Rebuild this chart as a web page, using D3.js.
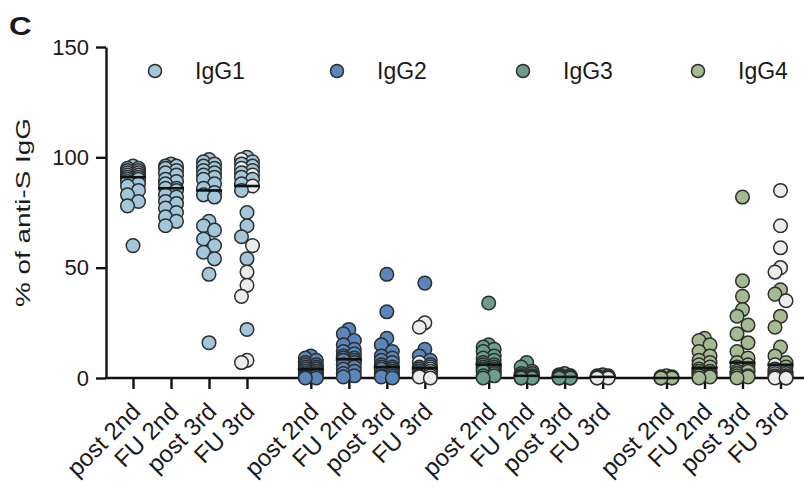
<!DOCTYPE html>
<html>
<head>
<meta charset="utf-8">
<script src="https://cdn.jsdelivr.net/npm/d3@7/dist/d3.min.js"></script>
<style>
  body { margin: 0; background: #fff; }
  text { font-family: "Liberation Sans", Arial, sans-serif; fill: #1a1a1a; }
</style>
</head>
<body>
<svg id="chart" width="804" height="491"></svg>
<script>
// subclasses and timepoints
const subclasses = ['IgG1', 'IgG2', 'IgG3', 'IgG4'];
const timepoints = ['post 2nd', 'FU 2nd', 'post 3rd', 'FU 3rd'];
const yTicks = [0, 50, 100, 150];

// % of anti-S IgG, one array per timepoint
const igg1 = [
  [96, 95, 95, 94, 94, 93, 93, 92, 92, 91, 91, 90, 90, 89, 88, 87, 85, 83, 80, 78, 60],
  [97, 96, 96, 95, 94, 93, 92, 90, 89, 88, 86, 86, 85, 83, 82, 80, 79, 77, 75, 73, 71, 69],
  [99, 98, 97, 96, 95, 94, 93, 92, 91, 90, 88, 86, 84, 83, 82, 71, 69, 67, 63, 60, 57, 54, 47, 16],
  [100, 98, 97, 96, 94, 93, 91, 90, 88, 85, 75, 69, 64, 54, 22],
];
const igg2 = [
  [10, 9, 8, 7, 6, 6, 5, 5, 4, 4, 3, 3, 2, 2, 1, 1, 0.5, 0, 0],
  [22, 20, 17, 15, 13, 12, 11, 10, 9, 9, 8, 8, 7, 6, 5, 4, 3, 2, 1, 0.5],
  [47, 30, 18, 15, 12, 10, 9, 8, 7, 6, 5, 5, 4, 4, 3, 2, 2, 1, 1, 0.5, 0],
  [43, 13, 10, 8, 6, 5, 4, 3, 2, 1],
];
const igg3 = [
  [34, 15, 14, 13, 12, 10, 9, 8, 7, 6, 6, 5, 5, 4, 4, 3, 3, 2, 1, 1, 0],
  [7, 5, 3, 2, 2, 1, 1, 1, 0.5, 0.5, 0, 0, 0, 0],
  [2, 1.5, 1, 1, 1, 0.5, 0.5, 0.5, 0, 0, 0, 0],
  [1.5, 1, 0.5, 0],
];
const igg4 = [
  [1, 0.5, 0.5, 0, 0, 0, 0, 0],
  [18, 17, 15, 12, 10, 8, 7, 6, 5, 4, 3, 3, 2, 2, 1, 1, 0.5, 0],
  [82, 44, 37, 31, 28, 24, 20, 16, 12, 9, 7, 6, 5, 4, 3, 3, 2, 1, 1, 0.5, 0],
  [40, 38, 28, 23, 14, 10, 7, 5, 4, 3, 2, 1, 0.5, 0],
];
// FU 3rd samples drawn as open (white) points
const fu3White = [
  [99, 95, 92, 87, 60, 48, 42, 37, 8, 7],
  [25, 23, 7, 5, 4, 3, 2, 1, 0.5, 0],
  [1, 0.5, 0, 0],
  [85, 69, 59, 50, 48, 35, 6, 3, 2, 1, 0.5, 0, 0],
];

const colors = ['#a3c6da', '#5a86bb', '#6b9f8b', '#a6ba91'];
const whiteFill = '#ececec';

const svg = d3.select('#chart');
const W = 804, H = 491;
const groupStep = 4.68;

const y = d3.scaleLinear().domain([0, 150]).range([378, 47]);
const x = d3.scaleLinear().domain([0, 3 * groupStep + 3]).range([133, 780.5]);

svg.append('rect').attr('width', W).attr('height', H).attr('fill', '#fff');

// panel letter
svg.append('text').attr('transform', 'translate(9,35) scale(1.25,1)')
  .attr('font-size', 25).attr('font-weight', 'bold').text('C');

// y axis
const yAxis = svg.append('g').attr('transform', 'translate(106,0)')
  .call(d3.axisLeft(y).tickValues(yTicks).tickSize(10).tickSizeOuter(0));
yAxis.select('.domain').attr('stroke', '#111').attr('stroke-width', 2.4);
yAxis.selectAll('.tick line').attr('stroke', '#111').attr('stroke-width', 2.4);
yAxis.selectAll('.tick text').attr('font-size', 22).attr('x', -17)
  .attr('font-family', '"Liberation Sans", Arial, sans-serif').attr('fill', '#1a1a1a');

svg.append('text')
  .attr('transform', 'translate(30,212.5) rotate(-90)')
  .attr('text-anchor', 'middle').attr('font-size', 21)
  .attr('textLength', 189).attr('lengthAdjust', 'spacingAndGlyphs')
  .text('% of anti-S IgG');

// x axis
const slots = [];
subclasses.forEach((s, g) => timepoints.forEach((t, i) => slots.push({ g, i, pos: g * groupStep + i, label: t })));

const xAxis = svg.append('g').attr('transform', 'translate(0,378)')
  .call(d3.axisBottom(x).tickValues(slots.map(d => d.pos)).tickSize(11).tickFormat(''));
xAxis.select('.domain').remove();
xAxis.selectAll('.tick line').attr('stroke', '#111').attr('stroke-width', 2.4);
svg.append('line').attr('x1', 105).attr('x2', W).attr('y1', 378).attr('y2', 378)
  .attr('stroke', '#111').attr('stroke-width', 2.4);

svg.append('g').selectAll('text').data(slots).join('text')
  .attr('transform', d => `translate(${x(d.pos) + 9},${413}) rotate(-45)`)
  .attr('text-anchor', 'end').attr('font-size', 24)
  .text(d => d.label);

// simple beeswarm offsets
const R = 6.8;
function swarm(points, cx) {
  const placed = [];
  const sorted = points.slice().sort((a, b) => b.v - a.v);
  const offs = [0, -3, 3, -5.5, 5.5];
  sorted.forEach(p => {
    const py = y(p.v);
    let best = 0, bestScore = Infinity;
    offs.forEach(o => {
      let score = 0;
      placed.forEach(q => {
        const d = Math.hypot(cx + o - q.x, py - q.y);
        if (d < 2 * R) score += (2 * R - d);
      });
      score += Math.abs(o) * 0.2;
      if (score < bestScore - 1e-6) { bestScore = score; best = o; }
    });
    placed.push({ x: cx + best, y: py, white: p.white, v: p.v });
  });
  return placed;
}

const series = [igg1, igg2, igg3, igg4];
const dotLayer = svg.append('g');
const medLayer = svg.append('g');

series.forEach((cols, g) => {
  cols.forEach((vals, i) => {
    const pts = vals.map(v => ({ v, white: false }));
    if (i === 3) fu3White[g].forEach(v => pts.push({ v, white: true }));
    const cx = x(g * groupStep + i);
    const placed = swarm(pts, cx);
    dotLayer.append('g').selectAll('circle').data(placed).join('circle')
      .attr('cx', d => d.x).attr('cy', d => d.y).attr('r', R)
      .attr('fill', d => d.white ? whiteFill : colors[g])
      .attr('stroke', '#2b2f2f').attr('stroke-width', 1.5);
    const med = d3.median(pts, d => d.v);
    medLayer.append('line')
      .attr('x1', cx - 13).attr('x2', cx + 13)
      .attr('y1', y(med)).attr('y2', y(med))
      .attr('stroke', '#111').attr('stroke-width', 2.6);
  });
});

// legend
const legX = [155, 337, 523, 698];
const leg = svg.append('g').selectAll('g').data(subclasses).join('g')
  .attr('transform', (d, i) => `translate(${legX[i]},71)`);
leg.append('circle').attr('r', 6.5).attr('fill', (d, i) => colors[i])
  .attr('stroke', '#2b2f2f').attr('stroke-width', 1.5);
leg.append('text').attr('x', 40).attr('y', 8).attr('font-size', 23).text(d => d);
</script>
</body>
</html>
